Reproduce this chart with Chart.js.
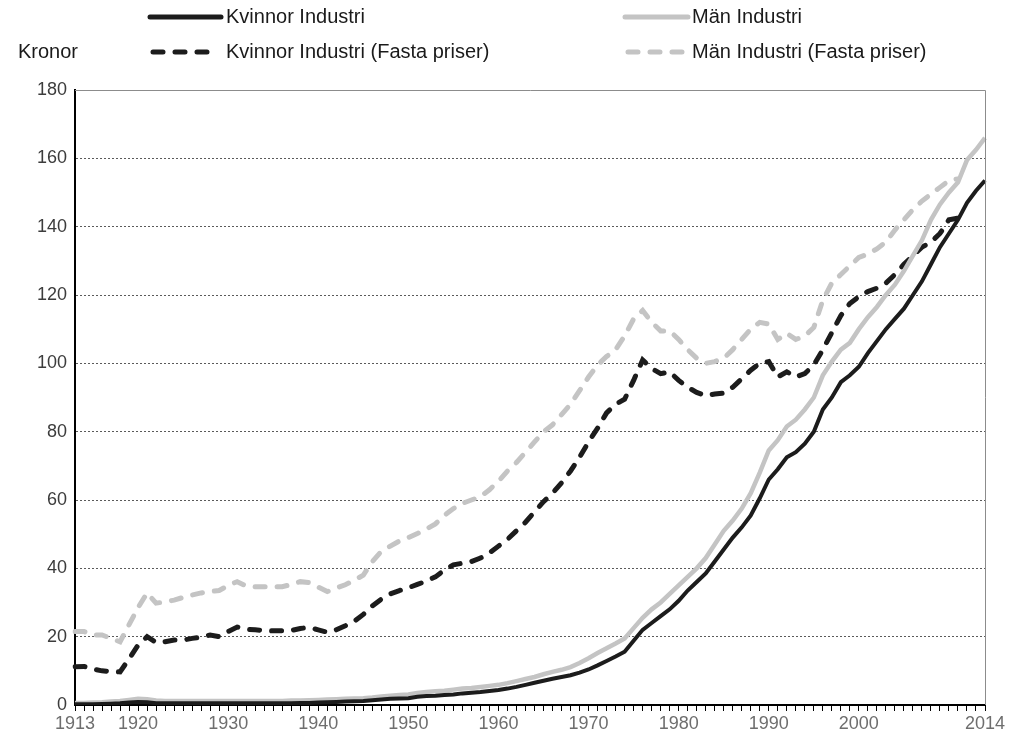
<!DOCTYPE html>
<html>
<head>
<meta charset="utf-8">
<script src="https://cdn.jsdelivr.net/npm/chart.js@4"></script>
<style>
  html, body { margin: 0; padding: 0; background: #fff; }
  #wrap { width: 1012px; height: 742px; position: relative; }
</style>
</head>
<body>
<div id="wrap"><canvas id="chart" width="1012" height="742"></canvas></div>
<script>
// years 1913-2014
const years = [];
for (let y = 1913; y <= 2014; y++) years.push(y);

const labeledYears = [1913, 1920, 1930, 1940, 1950, 1960, 1970, 1980, 1990, 2000, 2014];

// Kvinnor Industri (nominal), 1913-2014
const kvinnorIndustri = [
  0.2, 0.2, 0.2, 0.3, 0.4, 0.5, 0.7,
  0.9, 0.8, 0.5, 0.5, 0.5, 0.5, 0.5, 0.5, 0.5, 0.5,
  0.5, 0.5, 0.5, 0.5, 0.5, 0.5, 0.5, 0.5, 0.6, 0.6,
  0.7, 0.8, 0.9, 1.0, 1.1, 1.2, 1.4, 1.6, 1.8, 1.9,
  2.0, 2.4, 2.6, 2.7, 2.9, 3.1, 3.4, 3.6, 3.8, 4.1,
  4.4, 4.8, 5.3, 5.9, 6.5, 7.1, 7.7, 8.2, 8.7, 9.5,
  10.4, 11.6, 12.9, 14.2, 15.6, 18.8, 22.0, 24.0, 26.0, 28.0,
  30.5, 33.5, 36.0, 38.5, 42.0, 45.5, 49.0, 52.0, 55.5, 60.5,
  66.0, 69.0, 72.5, 74.0, 76.5, 80.0, 86.5, 90.0, 94.5, 96.5,
  99.0, 103.0, 106.5, 110.0, 113.0, 116.0, 120.0, 124.0, 129.0, 134.0,
  138.0, 142.0, 147.0, 150.5, 153.5
];

// Män Industri (nominal), 1913-2014
const manIndustri = [
  0.6, 0.6, 0.7, 0.8, 1.0, 1.2, 1.5,
  1.8, 1.7, 1.3, 1.2, 1.2, 1.2, 1.2, 1.2, 1.2, 1.2,
  1.2, 1.2, 1.2, 1.2, 1.2, 1.2, 1.2, 1.3, 1.3, 1.4,
  1.5, 1.6, 1.7, 1.8, 1.9, 2.0, 2.2, 2.5, 2.7, 2.9,
  3.1, 3.5, 3.8, 4.0, 4.2, 4.5, 4.8, 5.0, 5.3, 5.6,
  5.9, 6.4, 7.0, 7.6, 8.2, 9.0, 9.7, 10.3, 11.1, 12.3,
  13.7, 15.2, 16.6, 18.0, 19.5, 22.5, 25.5, 28.0, 30.0, 32.5,
  35.0, 37.5, 40.0, 43.0, 47.0, 51.0, 54.0, 57.5, 62.0, 68.0,
  74.5, 77.5, 81.5, 83.5, 86.5, 90.0, 96.5, 100.5, 104.0, 106.0,
  110.0, 113.5, 116.5, 120.0, 123.0, 127.0, 131.5, 136.0, 142.0, 146.5,
  150.0, 153.0, 159.5, 162.5, 166.0
];

// Kvinnor Industri (Fasta priser), 1913-2011
const kvinnorFasta = [
  11.2, 11.3, 10.5, 10.0, 9.8, 9.7, 13.5,
  17.5, 20.0, 18.3, 18.5, 19.0, 19.0, 19.5, 19.8, 20.5, 20.0,
  21.5, 22.8, 22.2, 22.0, 21.8, 21.7, 21.7, 21.8, 22.4, 22.7,
  22.0, 21.3, 22.0, 23.2, 24.5, 26.5, 29.0, 31.0, 32.5, 33.5,
  34.3, 35.3, 36.3, 37.5, 39.5, 41.0, 41.5, 42.0, 43.0, 44.5,
  46.5, 48.5, 51.0, 53.5, 56.5, 59.5, 62.0, 65.0, 68.5, 72.5,
  77.0, 81.0, 85.5, 88.0, 89.5, 95.0, 101.0, 98.5, 97.0, 97.5,
  95.0, 93.0, 91.5, 90.5, 91.0, 91.3, 93.0, 95.5, 98.0, 100.0,
  100.5, 96.0, 97.5, 96.0, 97.0, 99.5, 104.0, 109.0, 114.0, 117.5,
  119.5, 121.0, 122.0, 123.5, 126.0, 129.0, 131.5, 134.0, 135.5, 138.0,
  142.0, 142.5
];

// Män Industri (Fasta priser), 1913-2011
const manFasta = [
  21.5, 21.5, 20.5, 20.5, 19.5, 18.5, 23.5,
  28.5, 32.8, 29.8, 30.2, 30.7, 31.5, 32.2, 32.8, 33.2, 33.5,
  35.0, 36.1, 34.8, 34.6, 34.6, 34.6, 34.6, 35.3, 36.1, 35.8,
  34.5, 33.2, 34.2, 35.2, 36.5, 38.0, 42.0, 45.0, 46.5, 48.0,
  49.0, 50.2, 51.5, 53.0, 55.5, 57.5, 59.0, 60.0, 61.0, 63.0,
  65.5, 68.5, 71.0, 74.0, 77.0, 80.0, 82.0, 85.0, 88.0, 92.0,
  96.0, 99.5, 102.0, 104.0, 108.0, 113.0, 115.5, 112.0, 109.5, 109.5,
  107.0, 104.0, 101.5, 100.0, 100.5, 101.5, 104.0, 107.0, 110.0, 112.0,
  111.5, 107.0, 108.8, 107.0, 108.0, 110.5, 118.5, 123.5, 126.0, 128.5,
  131.0, 132.0, 133.5, 135.5, 139.0, 142.0, 145.0, 147.5, 149.5, 151.5,
  153.5, 154.0
];

const black = '#1c1c1c';
const grey = '#c4c4c4';
const fontFamily = '"Liberation Sans", Arial, sans-serif';

// frame (top/right) + custom two-column legend
const framePlugin = {
  id: 'frame',
  afterDatasetsDraw(chart) {
    const { ctx, chartArea: a } = chart;
    ctx.save();
    ctx.strokeStyle = '#8c8c8c';
    ctx.lineWidth = 1;
    ctx.beginPath();
    ctx.moveTo(a.left, a.top + 0.5);
    ctx.lineTo(a.right + 0.5, a.top + 0.5);
    ctx.lineTo(a.right + 0.5, a.bottom);
    ctx.stroke();
    ctx.restore();
  },
  afterDraw(chart) {
    const ctx = chart.ctx;
    const items = [
      { text: 'Kvinnor Industri', color: black, dash: [], x1: 150, x2: 221, tx: 226, y: 17 },
      { text: 'Män Industri', color: grey, dash: [], x1: 625, x2: 688, tx: 692, y: 17 },
      { text: 'Kvinnor Industri (Fasta priser)', color: black, dash: [10, 12], x1: 153, x2: 216, tx: 226, y: 52 },
      { text: 'Män Industri (Fasta priser)', color: grey, dash: [10, 12], x1: 628, x2: 688, tx: 692, y: 52 }
    ];
    ctx.save();
    ctx.font = '20px ' + fontFamily;
    ctx.textBaseline = 'middle';
    ctx.fillStyle = '#1a1a1a';
    ctx.fillText('Kronor', 18, 52);
    items.forEach(it => {
      ctx.strokeStyle = it.color;
      ctx.lineWidth = 5;
      ctx.lineCap = 'round';
      ctx.setLineDash(it.dash);
      ctx.beginPath();
      ctx.moveTo(it.x1, it.y);
      ctx.lineTo(it.x2, it.y);
      ctx.stroke();
      ctx.setLineDash([]);
      ctx.fillStyle = '#1a1a1a';
      ctx.fillText(it.text, it.tx, it.y);
    });
    ctx.restore();
  }
};

new Chart(document.getElementById('chart'), {
  type: 'line',
  data: {
    labels: years,
    datasets: [
      {
        label: 'Kvinnor Industri',
        data: kvinnorIndustri,
        borderColor: black,
        borderWidth: 4,
        pointRadius: 0,
        tension: 0,
        order: 1
      },
      {
        label: 'Män Industri',
        data: manIndustri,
        borderColor: grey,
        borderWidth: 4.5,
        pointRadius: 0,
        tension: 0,
        order: 2
      },
      {
        label: 'Kvinnor Industri (Fasta priser)',
        data: kvinnorFasta,
        borderColor: black,
        borderWidth: 5,
        borderDash: [10, 12],
        borderCapStyle: 'round',
        pointRadius: 0,
        tension: 0,
        order: 3
      },
      {
        label: 'Män Industri (Fasta priser)',
        data: manFasta,
        borderColor: grey,
        borderWidth: 5,
        borderDash: [10, 12],
        borderCapStyle: 'round',
        pointRadius: 0,
        tension: 0,
        order: 4
      }
    ]
  },
  options: {
    responsive: false,
    animation: false,
    events: [],
    layout: { padding: { top: 90, right: 27, left: 0, bottom: 0 } },
    plugins: {
      legend: { display: false },
      tooltip: { enabled: false }
    },
    scales: {
      x: {
        type: 'category',
        offset: false,
        grid: { display: true, drawOnChartArea: false, drawTicks: true, tickLength: 6, color: '#000', lineWidth: 1 },
        border: { display: true, color: '#000', width: 2 },
        ticks: {
          autoSkip: false,
          maxRotation: 0,
          padding: 2,
          color: '#6e6e6e',
          font: { family: fontFamily, size: 18 },
          callback: function (value) {
            const yr = Number(this.getLabelForValue(value));
            return labeledYears.includes(yr) ? String(yr) : '';
          }
        },
        afterFit: scale => { scale.height = 37; }
      },
      y: {
        min: 0,
        max: 180,
        ticks: {
          stepSize: 20,
          padding: 8,
          color: '#3c3c3c',
          font: { family: fontFamily, size: 18 }
        },
        grid: { color: '#5a5a5a', lineWidth: 1, drawTicks: false },
        border: { display: true, color: '#000', width: 2, dash: [2, 2] },
        afterFit: scale => { scale.width = 75; }
      }
    }
  },
  plugins: [framePlugin]
});
</script>
</body>
</html>
